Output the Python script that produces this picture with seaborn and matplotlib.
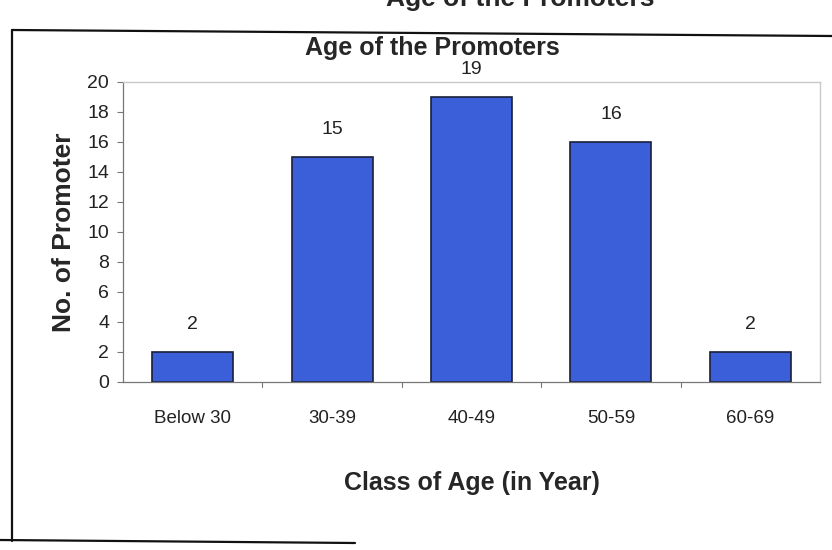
import matplotlib
matplotlib.use("Agg")
import matplotlib.pyplot as plt
import seaborn as sns
import pandas as pd
from matplotlib.lines import Line2D

# Data
age_classes = ["Below 30", "30-39", "40-49", "50-59", "60-69"]
promoters = [2, 15, 19, 16, 2]
y_ticks = [0, 2, 4, 6, 8, 10, 12, 14, 16, 18, 20]

df = pd.DataFrame({"Class": age_classes, "Count": promoters})

sns.set_theme(style="white")
FONT = ["Liberation Sans", "DejaVu Sans"]
plt.rcParams["font.family"] = FONT

W, H = 832, 550
fig = plt.figure(figsize=(W / 100, H / 100), dpi=100)
fig.patch.set_facecolor("white")

# Plot area
ax = fig.add_axes([123 / W, 1 - 382 / H, (820 - 123) / W, (382 - 82) / H])
sns.barplot(data=df, x="Class", y="Count", ax=ax, color="#3A5FD8",
            saturation=1, width=0.58, edgecolor="#1a1f3a", linewidth=1.2)

ax.set_ylim(0, 20)
ax.set_xlim(-0.5, len(age_classes) - 0.5)
ax.set_yticks(y_ticks)
ax.set_yticklabels([str(t) for t in y_ticks], fontsize=14, color="#222222")
ax.tick_params(axis="x", labelsize=13.5, colors="#222222", pad=20, length=0)
ax.tick_params(axis="y", pad=6, left=True, length=4, width=0.8, color="#777777")

for side in ["top", "right"]:
    ax.spines[side].set_visible(True)
    ax.spines[side].set_color("#c8c8c8")
    ax.spines[side].set_linewidth(1.0)
ax.spines["left"].set_color("#777777")
ax.spines["bottom"].set_color("#777777")
ax.spines["left"].set_linewidth(0.9)
ax.spines["bottom"].set_linewidth(0.9)

# Category separator ticks on the x-axis
for b in range(1, len(age_classes)):
    ax.plot([b - 0.5, b - 0.5], [0, -0.3], color="#777777", lw=0.8, clip_on=False)

# Value labels above the bars
for i, v in enumerate(promoters):
    ax.annotate(str(v), (i, v), xytext=(0, 14), textcoords="offset points",
                ha="center", va="bottom", fontsize=14, color="#222222")

ax.set_xlabel("Class of Age (in Year)", fontsize=18, fontweight="bold", labelpad=32)
ax.set_ylabel("No. of Promoter", fontsize=19, fontweight="bold", labelpad=8)
fig.text(432 / W, 1 - 48 / H, "Age of the Promoters", ha="center", va="center",
         fontsize=18, fontweight="bold")

# Caption above the chart frame (runs off the top edge)
fig.text(655 / W, 1 - 6 / H, "Age of the Promoters", ha="right", va="baseline",
         fontsize=19, fontweight="bold")

# Chart frame
fig.add_artist(Line2D([12 / W, 1.0], [1 - 30 / H, 1 - 36 / H], color="#111111", lw=1.6))
fig.add_artist(Line2D([12 / W, 12 / W], [1 - 30 / H, 1 - 541 / H], color="#111111", lw=1.6))
fig.add_artist(Line2D([0, 355 / W], [1 - 540 / H, 1 - 543 / H], color="#111111", lw=1.6))

fig.savefig("out.png", dpi=100, facecolor="white")
